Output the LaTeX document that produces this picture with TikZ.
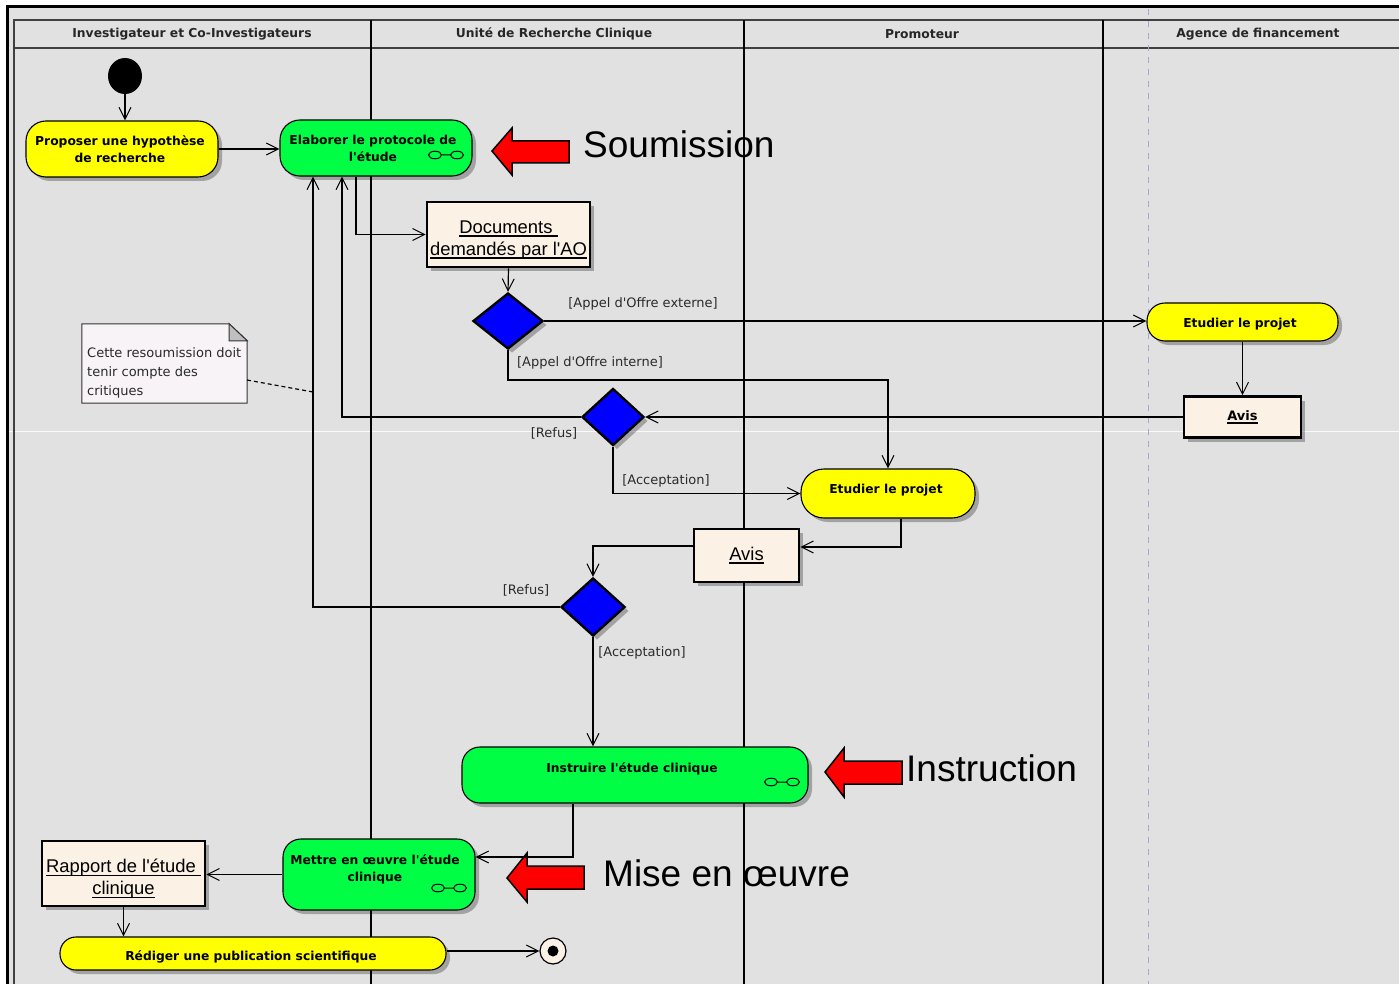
\documentclass[tikz,border=0pt]{standalone}
\usepackage{fontspec}
\setmainfont{DejaVu Sans}
\newfontfamily\arialf{Liberation Sans}
\usetikzlibrary{arrows.meta,shapes.geometric,shadows,calc}
\definecolor{bg}{HTML}{E1E1E1}
\definecolor{actY}{HTML}{FFFF00}
\definecolor{actG}{HTML}{00FF44}
\definecolor{objF}{HTML}{FBF1E4}
\definecolor{noteF}{HTML}{F7F3F7}
\definecolor{lav}{HTML}{A8A8D4}
\definecolor{labc}{HTML}{2A2A2A}
\definecolor{decB}{HTML}{0000FF}
\definecolor{redA}{HTML}{FF0000}
\newcommand\myul[2][1.6pt]{\setbox0\hbox{#2}\leavevmode\rlap{\rule[-3.5pt]{\wd0}{#1}}\box0}
\newcommand\apos{\textquotesingle}
\tikzset{
  shad/.style={drop shadow={shadow xshift=4pt,shadow yshift=-4pt,opacity=0.28,fill=black}},
  act/.style={draw=black,line width=1.1pt,rounded corners=20pt,align=center,
    font=\fontsize{12.3}{17}\selectfont\bfseries,inner sep=0pt,shad},
  acttxt/.style={align=center,font=\fontsize{12.3}{17}\selectfont\bfseries,inner sep=0pt},
  obj/.style={draw=black,line width=2.6pt,fill=objF,align=center,inner sep=0pt,shad,
    font=\arialf\fontsize{18.4}{22}\selectfont},
  objtxt/.style={align=center,inner sep=0pt,font=\arialf\fontsize{18.4}{22}\selectfont},
  decision/.style={diamond,draw=black,line width=2.4pt,fill=decB,inner sep=0pt,shad},
  lab/.style={font=\fontsize{13}{15}\selectfont,text=labc,inner sep=0pt},
  hdr/.style={font=\fontsize{12.3}{14}\selectfont\bfseries,text=black!85,inner sep=0pt},
  big/.style={font=\arialf\fontsize{37}{40}\selectfont,inner sep=0pt,anchor=base west},
  flow/.style={line width=1.2pt,-{Straight Barb[length=12pt,width=12pt,line width=1pt]}},
  redarrow/.style={fill=redA,draw=black,line width=1.5pt,line join=miter},
  rake/.pic={\draw[line width=1pt] (-11pt,0) ellipse (6.5pt and 3.8pt) (11pt,0) ellipse (6.5pt and 3.8pt) (-4.5pt,0) -- (4.5pt,0);}
}
\begin{document}
\begin{tikzpicture}[x=1pt,y=-1pt]
\useasboundingbox (0,0) rectangle (1399,984);
% background and frame
\fill[white] (0,0) rectangle (1399,984);
\fill[bg] (7,7) rectangle (1399,984);
\draw[white!85!bg,line width=0.7pt] (7,431) -- (1399,431);
\draw[line width=3pt] (7,984) -- (7,7) -- (1399,7);
\draw[black!75,line width=1.5pt] (14,984) -- (14,20) -- (1399,20);
\draw[black!75,line width=2pt] (14,48) -- (1399,48);
\draw[lav,line width=1pt,dash pattern=on 6pt off 6pt] (1148,9) -- (1148,984);
\draw[line width=2.5pt] (371,20) -- (371,984);
\draw[line width=2.5pt] (744,20) -- (744,984);
\draw[line width=2.5pt] (1103,20) -- (1103,984);
% headers
\node[hdr] (h1) at (192,34) {Investigateur et Co-Investigateurs};
\node[hdr] (h2) at (554,34) {Unité de Recherche Clinique};
\node[hdr] (h3) at (922,34) {Promoteur};
\node[hdr] (h4) at (1258,34) {Agence de financement};
% nodes
\node[ellipse,fill=black,minimum width=34pt,minimum height=36pt,inner sep=0pt] (start) at (125,76) {};
\node[act,fill=actY,minimum width=192pt,minimum height=56pt] (prop) at (122,149) {};
\node[acttxt] (propT) at (120,149.5) {Proposer une hypothèse\\de recherche};
\node[act,fill=actG,minimum width=192pt,minimum height=56pt] (elab) at (376,148) {};
\node[acttxt] (elabT) at (373,148.5) {Elaborer le protocole de\\l\apos étude};
\pic (elabI) at (446,155) {rake};
\node[obj,minimum width=163pt,minimum height=65pt] (docs) at (508.5,234.5) {};
\node[objtxt] (docsT) at (508.5,240) {\myul{Documents\ }\\\myul{demandés par l\apos AO}};
\node[decision,minimum width=70pt,minimum height=56pt] (d1) at (508,321) {};
\node[act,fill=actY,rounded corners=18pt,minimum width=191pt,minimum height=38pt] (etudA) at (1242.5,322) {};
\node[acttxt] (etudAT) at (1240,324) {Etudier le projet};
\node[obj,minimum width=117pt,minimum height=41pt,font=\fontsize{13}{15}\selectfont\bfseries] (avisA) at (1242.5,417) {\myul[1.2pt]{Avis}};
\node[decision,minimum width=62pt,minimum height=57pt] (d2) at (613,417) {};
\node[act,fill=actY,rounded corners=23pt,minimum width=174pt,minimum height=49pt] (etudP) at (888,493.5) {};
\node[acttxt] (etudPT) at (886,490) {Etudier le projet};
\node[obj,minimum width=105pt,minimum height=53pt] (avisP) at (746.5,555.5) {\myul{Avis}};
\node[decision,minimum width=64pt,minimum height=58pt] (d3) at (593,607) {};
\node[act,fill=actG,rounded corners=18pt,minimum width=346pt,minimum height=56pt] (instr) at (635,775) {};
\node[acttxt] (instrT) at (632,768.5) {Instruire l\apos étude clinique};
\pic (instrI) at (782,782) {rake};
\node[act,fill=actG,rounded corners=18pt,minimum width=192pt,minimum height=71pt] (mettre) at (379,874.5) {};
\node[acttxt] (mettreT) at (375,869) {Mettre en œuvre l\apos étude\\clinique};
\pic (mettreI) at (449,888) {rake};
\node[obj,minimum width=163pt,minimum height=65pt] (rapport) at (123.5,873.5) {};
\node[objtxt] (rapportT) at (123.5,879) {\myul{Rapport de l\apos étude\ }\\\myul{clinique}};
\node[act,fill=actY,rounded corners=16pt,minimum width=386pt,minimum height=33pt] (rediger) at (253,953.5) {};
\node[acttxt] (redigerT) at (251,957) {Rédiger une publication scientifique};
\node[circle,draw=black,line width=1.2pt,fill=objF,minimum size=26pt,inner sep=0pt,
  path picture={\fill[black] (path picture bounding box.center) circle (5.5pt);}] (final) at (553,951) {};
% note
\node[minimum width=165pt,minimum height=79pt,inner sep=0pt] (note) at (164.5,363.5) {};
\filldraw[fill=noteF,draw=black!80,line width=1pt] (note.north west) -- ($(note.north east)+(-18,0)$) -- ($(note.north east)+(0,17)$) -- (note.south east) -- (note.south west) -- cycle;
\filldraw[fill=black!25,draw=black!80,line width=1pt] ($(note.north east)+(-18,0)$) -- ($(note.north east)+(-18,17)$) -- ($(note.north east)+(0,17)$) -- cycle;
\node[lab,anchor=west,align=left,font=\fontsize{13}{19}\selectfont] (noteT) at (87,373) {Cette resoumission doit\\tenir compte des\\critiques};
\coordinate (nA) at (247,380);
\coordinate (nB) at (313,392);
\draw[line width=1.2pt,dash pattern=on 4pt off 3pt] (nA) -- (nB);
% red arrows and big texts
\draw[redarrow] (492,151) -- (512,128) -- (512,141) -- (569,141) -- (569,163) -- (512,163) -- (512,175) -- cycle;
\node[big] (soum) at (583,158) {Soumission};
\draw[redarrow] (825,772) -- (844,748) -- (844,761) -- (902,761) -- (902,784) -- (844,784) -- (844,797) -- cycle;
\node[big] (instruc) at (906,781) {Instruction};
\draw[redarrow] (507,878) -- (527,853) -- (527,866) -- (584,866) -- (584,889) -- (527,889) -- (527,902) -- cycle;
\node[big] (mise) at (603,886) {Mise en œuvre};
% helper coordinates
\coordinate (cA) at (356,0);
\coordinate (cB) at (888,380);
\coordinate (cC) at (342,0);
\coordinate (cD) at (901,0);
\coordinate (cE) at (0,547);
\coordinate (cF) at (0,546);
\coordinate (cG) at (313,0);
\coordinate (cH) at (573,0);
\coordinate (cI) at (0,857);
% connectors
\draw[flow] (start.south) -- (start.south |- prop.north);
\draw[flow] (prop.east) -- (prop.east -| elab.west);
\draw[flow] (elab.south -| cA) |- (docs.west);
\draw[flow] (docs.south) -- (d1.north);
\draw[flow] (d1.east) -- (d1.east -| etudA.west);
\draw[flow] (d1.south) |- (cB) -- (etudP.north);
\draw[flow] (etudA.south) -- (avisA.north);
\draw[flow] (avisA.west) -- (d2.east);
\draw[flow] (d2.west) -| (elab.south -| cC);
\draw[flow] (d2.south) |- (etudP.west);
\draw[flow] (etudP.south -| cD) |- (avisP.east |- cE);
\draw[flow] (avisP.west |- cF) -| (d3.north);
\draw[flow] (d3.west) -| (elab.south -| cG);
\draw[flow] (d3.south) -- (d3.south |- instr.north);
\draw[flow] (instr.south -| cH) |- (mettre.east |- cI);
\draw[flow] (mettre.west) -- (mettre.west -| rapport.east);
\draw[flow] (rapport.south) -- (rapport.south |- rediger.north);
\draw[flow] (final.west -| rediger.east) -- (final.west);
% guard labels
\node[lab] (l1) at (643,304) {[Appel d\apos Offre externe]};
\node[lab] (l2) at (590,363) {[Appel d\apos Offre interne]};
\node[lab] (l3) at (554,433) {[Refus]};
\node[lab] (l4) at (666,481) {[Acceptation]};
\node[lab] (l5) at (526,590) {[Refus]};
\node[lab] (l6) at (642,653) {[Acceptation]};
\end{tikzpicture}
\end{document}
